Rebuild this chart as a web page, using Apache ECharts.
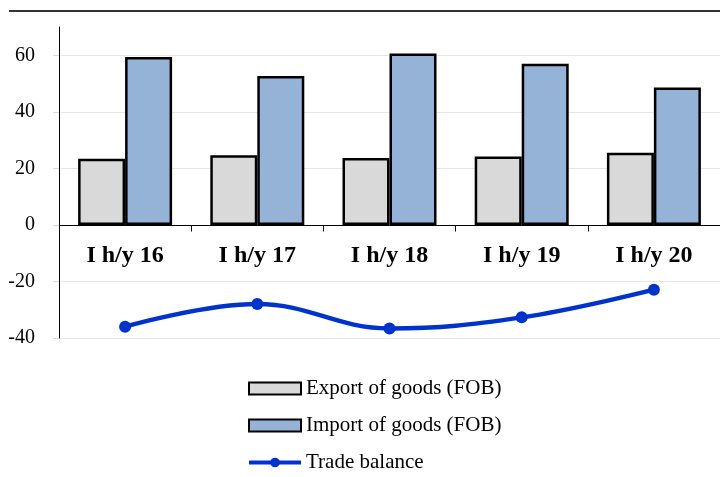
<!DOCTYPE html>
<html>
<head>
<meta charset="utf-8">
<script src="https://cdn.jsdelivr.net/npm/echarts@6/dist/echarts.min.js"></script>
<style>
  html, body { margin: 0; padding: 0; background: #fff; }
  #chart { width: 720px; height: 477px; }
</style>
</head>
<body>
<div id="chart"></div>
<script>
const categories = ['I h/y 16', 'I h/y 17', 'I h/y 18', 'I h/y 19', 'I h/y 20'];
const exportGoods = [23.4, 24.6, 23.7, 24.2, 25.5];
const importGoods = [59.4, 52.7, 60.6, 57.0, 48.6];
const tradeBalance = [-36.0, -28.0, -36.6, -32.7, -22.9];

const font = '"Liberation Serif", "Times New Roman", serif';
var myChart = echarts.init(document.getElementById('chart'));

// zero line sits ~112.5px above the grid bottom, x axis is moved up there
var option = {
  animation: false,
  textStyle: { fontFamily: font },
  graphic: [
    {
      type: 'line',
      shape: { x1: 9, y1: 11, x2: 720, y2: 11 },
      style: { stroke: '#333', lineWidth: 2 }
    }
  ],
  grid: { left: 59, top: 27, width: 668, bottom: 139 },
  legend: {
    orient: 'vertical',
    left: 247,
    top: 378,
    padding: 0,
    itemWidth: 52,
    itemHeight: 12,
    itemGap: 16,
    textStyle: { fontFamily: font, fontSize: 21, color: '#000' },
    data: [
      { name: 'Export of goods (FOB)', icon: 'rect' },
      { name: 'Import of goods (FOB)', icon: 'rect' },
      { name: 'Trade balance', lineStyle: { width: 4 } }
    ]
  },
  xAxis: {
    type: 'category',
    data: categories,
    offset: -112.5,
    axisLine: { onZero: false, lineStyle: { color: '#000', width: 1 } },
    axisTick: { show: true, length: 6, lineStyle: { color: '#000' } },
    axisLabel: {
      margin: 18,
      fontFamily: font,
      fontSize: 24,
      fontWeight: 'bold',
      color: '#000'
    }
  },
  yAxis: {
    type: 'value',
    min: -40,
    max: 70,
    interval: 20,
    axisLine: { show: true, lineStyle: { color: '#000', width: 1 } },
    axisTick: { show: true, length: 6, lineStyle: { color: '#d9d9d9' } },
    axisLabel: {
      margin: 24,
      fontFamily: font,
      fontSize: 20,
      color: '#000',
      showMaxLabel: false
    },
    splitLine: { show: true, showMaxLine: false, lineStyle: { color: '#e6e6e6', width: 1 } }
  },
  series: [
    {
      name: 'Export of goods (FOB)',
      type: 'bar',
      data: exportGoods,
      barWidth: 47,
      barGap: '0%',
      itemStyle: { color: '#d9d9d9', borderColor: '#000', borderWidth: 2.5 }
    },
    {
      name: 'Import of goods (FOB)',
      type: 'bar',
      data: importGoods,
      barWidth: 47,
      barGap: '0%',
      itemStyle: { color: '#95b3d7', borderColor: '#000', borderWidth: 2.5 }
    },
    {
      name: 'Trade balance',
      type: 'line',
      data: tradeBalance,
      smooth: 0.4,
      symbol: 'circle',
      symbolSize: 12,
      lineStyle: { color: '#0033cc', width: 4.5 },
      itemStyle: { color: '#0033cc' }
    }
  ]
};

option && myChart.setOption(option);
</script>
</body>
</html>
